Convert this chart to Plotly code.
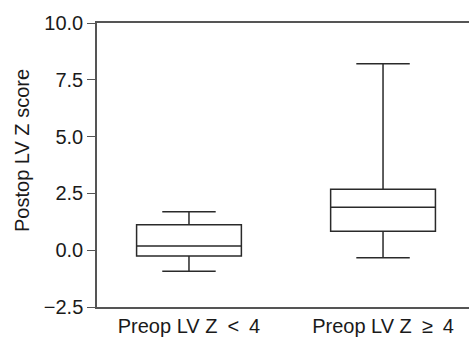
import plotly.graph_objects as go

categories = ["Preop LV Z\u2002&lt;\u20024", "Preop LV Z\u2002≥\u20024"]
positions = [0, 1]
lower_whisker = [-0.93, -0.33]
q1_values = [-0.25, 0.83]
median_values = [0.19, 1.89]
q3_values = [1.12, 2.68]
upper_whisker = [1.69, 8.21]
y_ticks = [-2.5, 0.0, 2.5, 5.0, 7.5, 10.0]
y_tick_labels = ["\u22122.5", "0.0", "2.5", "5.0", "7.5", "10.0"]
y_title = "Postop LV Z score"

fig = go.Figure()
for i in range(len(categories)):
    fig.add_trace(go.Box(
        x=[positions[i]],
        q1=[q1_values[i]], median=[median_values[i]], q3=[q3_values[i]],
        lowerfence=[lower_whisker[i]], upperfence=[upper_whisker[i]],
        width=0.54, whiskerwidth=0.51,
        line=dict(color="#2a2a2a", width=1.5),
        fillcolor="white", boxpoints=False, showlegend=False,
        hoverinfo="skip",
    ))

font = dict(family="Liberation Sans, Arial, sans-serif", size=20, color="#1a1a1a")
fig.update_layout(
    width=469, height=340,
    margin=dict(l=97, r=0, t=23, b=33),
    paper_bgcolor="white", plot_bgcolor="white",
    font=font,
)
fig.update_xaxes(
    range=[-0.474, 1.443], tickmode="array", tickvals=positions, ticktext=categories,
    showline=True, linecolor="#555555", linewidth=1.5, mirror=True,
    ticks="", showgrid=False, zeroline=False, tickfont=font,
)
fig.update_yaxes(
    range=[-2.5, 10.0], tickmode="array", tickvals=y_ticks, ticktext=y_tick_labels,
    showline=True, linecolor="#555555", linewidth=1.5, mirror=False,
    ticks="outside", ticklen=8, tickwidth=1.2, tickcolor="#555555",
    showgrid=False, zeroline=False, tickfont=font,
)
fig.add_annotation(
    text=y_title, textangle=-90, showarrow=False,
    xref="paper", yref="paper", x=(22 - 97) / 372, y=(307 - 151) / 284,
    xanchor="center", yanchor="middle", font=font,
)
fig.write_html(
    "out.html",
    config={"displayModeBar": False},
    post_script="document.body.style.margin='0';document.body.style.overflow='hidden';",
)
